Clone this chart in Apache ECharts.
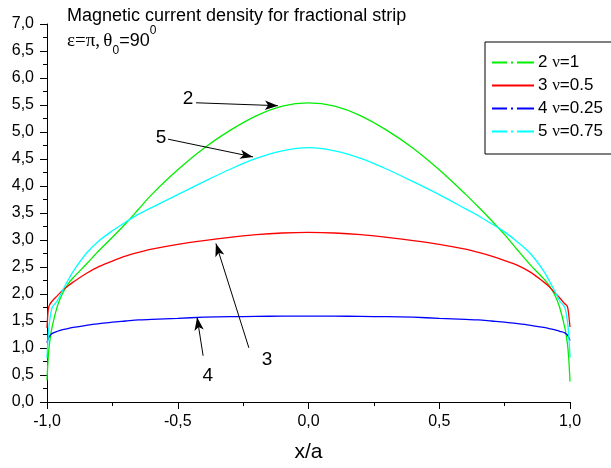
<!DOCTYPE html>
<html>
<head>
<meta charset="utf-8">
<script src="https://cdn.jsdelivr.net/npm/echarts@6/dist/echarts.min.js"></script>
<style>
html,body{margin:0;padding:0;background:#fff;}
#c{width:611px;height:468px;}
</style>
</head>
<body>
<div id="c"></div>
<script>
// x positions (x/a)
var xs = [-1, -0.995, -0.99, -0.98, -0.96, -0.94, -0.92, -0.9, -0.85, -0.8, -0.75, -0.7, -0.65, -0.6, -0.5, -0.4, -0.3, -0.2, -0.1, 0,
          0.1, 0.2, 0.3, 0.4, 0.5, 0.6, 0.65, 0.7, 0.75, 0.8, 0.85, 0.9, 0.92, 0.94, 0.96, 0.98, 0.99, 0.995, 1];
// 2 nu=1 (green)
var s2 = [0.40, 0.85, 1.10, 1.40, 1.78, 2.02, 2.18, 2.30, 2.55, 2.81, 3.05, 3.30, 3.57, 3.84, 4.30, 4.70, 5.03, 5.30, 5.48, 5.54,
          5.48, 5.30, 5.03, 4.70, 4.30, 3.85, 3.61, 3.36, 3.10, 2.81, 2.53, 2.28, 2.16, 2.00, 1.76, 1.38, 1.08, 0.82, 0.38];
// 3 nu=0.5 (red)
var s3 = [1.37, 1.72, 1.80, 1.87, 1.97, 2.07, 2.15, 2.22, 2.38, 2.51, 2.61, 2.70, 2.77, 2.83, 2.92, 2.99, 3.05, 3.10, 3.13, 3.14,
          3.13, 3.10, 3.05, 2.99, 2.92, 2.83, 2.77, 2.70, 2.62, 2.53, 2.40, 2.22, 2.14, 2.03, 1.93, 1.82, 1.77, 1.62, 1.39];
// 4 nu=0.25 (blue)
var s4 = [1.10, 1.18, 1.22, 1.27, 1.31, 1.34, 1.36, 1.38, 1.42, 1.45, 1.48, 1.50, 1.52, 1.53, 1.55, 1.57, 1.58, 1.585, 1.59, 1.59,
          1.59, 1.585, 1.58, 1.57, 1.55, 1.53, 1.52, 1.50, 1.48, 1.45, 1.42, 1.38, 1.36, 1.34, 1.31, 1.28, 1.24, 1.20, 1.14];
// 5 nu=0.75 (cyan)
var s5 = [0.81, 1.25, 1.50, 1.75, 1.88, 2.07, 2.25, 2.42, 2.75, 2.99, 3.17, 3.33, 3.48, 3.60, 3.84, 4.08, 4.31, 4.51, 4.65, 4.71,
          4.65, 4.51, 4.31, 4.08, 3.84, 3.58, 3.45, 3.30, 3.15, 2.96, 2.74, 2.42, 2.25, 2.07, 1.88, 1.75, 1.50, 1.25, 0.83];

var names = ['2 ν=1', '3 ν=0.5', '4 ν=0.25', '5 ν=0.75'];
var colors = ['#00ee00', '#ff0000', '#0000ff', '#00ffff'];
var seriesVals = [s2, s3, s4, s5];

// annotations (data coordinates)
var annLabels = ['2', '5', '3', '4'];
var annLabelPos = [[-0.461, 5.61], [-0.564, 4.90], [-0.159, 0.78], [-0.385, 0.49]];
var annFrom = [[-0.430, 5.541], [-0.537, 4.867], [-0.228, 1.003], [-0.403, 0.857]];
var annTo = [[-0.117, 5.487], [-0.212, 4.539], [-0.354, 2.935], [-0.426, 1.568]];

var yTicks = [0, 7, 0.5];
var xTicks = [-1, 1, 0.5];

function fmt(v) { return v.toFixed(1).replace('.', ','); }

var dashDot = 'path://M0,0H15V2H0Z M19,0H21V2H19Z M25,0H42V2H25Z';
var solid = 'path://M0,0H42V2H0Z';
var icons = [dashDot, solid, dashDot, dashDot];

var chart = echarts.init(document.getElementById('c'), null, {renderer: 'canvas'});

var series = seriesVals.map(function (vals, i) {
  return {
    name: names[i],
    type: 'line',
    data: xs.map(function (x, k) { return [x, vals[k]]; }),
    showSymbol: false,
    smooth: 0.3,
    lineStyle: {color: colors[i], width: 1.3},
    itemStyle: {color: colors[i]},
    z: 3
  };
});

series.push({
  type: 'line',
  data: [],
  silent: true,
  markLine: {
    silent: true,
    animation: false,
    symbol: ['none', 'arrow'],
    symbolSize: [7, 13],
    label: {show: false},
    lineStyle: {color: '#000', width: 1, type: 'solid'},
    emphasis: {disabled: true},
    data: annFrom.map(function (f, i) {
      return [{coord: f}, {coord: annTo[i]}];
    })
  },
  markPoint: {
    silent: true,
    animation: false,
    symbol: 'circle',
    symbolSize: 0,
    label: {show: true, position: 'inside', color: '#000', fontSize: 19, fontFamily: 'Liberation Sans',
      formatter: function (p) { return p.name; }},
    data: annLabelPos.map(function (p, i) { return {name: annLabels[i], coord: p, value: 0}; })
  },
  z: 4
});

chart.setOption({
  animation: false,
  backgroundColor: '#fff',
  grid: {left: 47, right: 41, top: 24, bottom: 60, containLabel: false},
  xAxis: {
    type: 'value', min: xTicks[0], max: xTicks[1], interval: xTicks[2],
    name: 'x/a', nameLocation: 'middle', nameGap: 40,
    nameTextStyle: {fontSize: 21, fontFamily: 'Liberation Sans', color: '#000'},
    axisLine: {show: true, onZero: false, lineStyle: {color: '#000', width: 1}},
    axisTick: {show: true, inside: false, length: 7, lineStyle: {color: '#000', width: 1}},
    minorTick: {show: true, splitNumber: 2, length: 4, lineStyle: {color: '#000', width: 1}},
    axisLabel: {color: '#000', fontSize: 16, fontFamily: 'Liberation Sans', margin: 12, formatter: fmt},
    splitLine: {show: false}
  },
  yAxis: {
    type: 'value', min: yTicks[0], max: yTicks[1], interval: yTicks[2],
    axisLine: {show: true, onZero: false, lineStyle: {color: '#000', width: 1}},
    axisTick: {show: true, inside: false, length: 7, lineStyle: {color: '#000', width: 1}},
    minorTick: {show: true, splitNumber: 2, length: 4, lineStyle: {color: '#000', width: 1}},
    axisLabel: {color: '#000', fontSize: 16, fontFamily: 'Liberation Sans', margin: 13, formatter: fmt},
    splitLine: {show: false}
  },
  legend: {
    show: true,
    orient: 'vertical',
    left: 485, top: 42,
    padding: [12, 10, 14, 7],
    itemGap: 6,
    itemWidth: 42, itemHeight: 2,
    borderColor: '#000', borderWidth: 1, borderRadius: 0,
    backgroundColor: '#fff',
    selectedMode: false,
    data: names.map(function (n, i) { return {name: n, icon: icons[i], itemStyle: {color: colors[i], opacity: 1}}; }),
    textStyle: {color: '#000', fontSize: 17, fontFamily: 'Liberation Sans', padding: [0, 0, 0, -1],
      rich: {g: {fontSize: 17, fontFamily: 'Liberation Serif', color: '#000'}}},
    formatter: function (n) {
      var parts = n.split('ν');
      return parts[0] + '{g|ν}' + parts[1];
    }
  },
  graphic: [
    {type: 'text', left: 67, top: 7, silent: true,
      style: {text: 'Magnetic current density for fractional strip', font: '18px "Liberation Sans"', fill: '#000'}},
    {type: 'text', left: 67, top: 25, silent: true,
      style: {
        text: '{g|ε=π,} {g|θ}{sub|0}{n|=90}{sup|0}',
        fill: '#000',
        rich: {
          g: {fontSize: 19, fontFamily: 'Liberation Serif', lineHeight: 32, color: '#000'},
          n: {fontSize: 18, fontFamily: 'Liberation Sans', lineHeight: 32, color: '#000'},
          sub: {fontSize: 12, fontFamily: 'Liberation Sans', lineHeight: 12, verticalAlign: 'bottom', color: '#000'},
          sup: {fontSize: 12, fontFamily: 'Liberation Sans', lineHeight: 12, verticalAlign: 'top', color: '#000'}
        }
      }}
  ],
  series: series
});
</script>
</body>
</html>
